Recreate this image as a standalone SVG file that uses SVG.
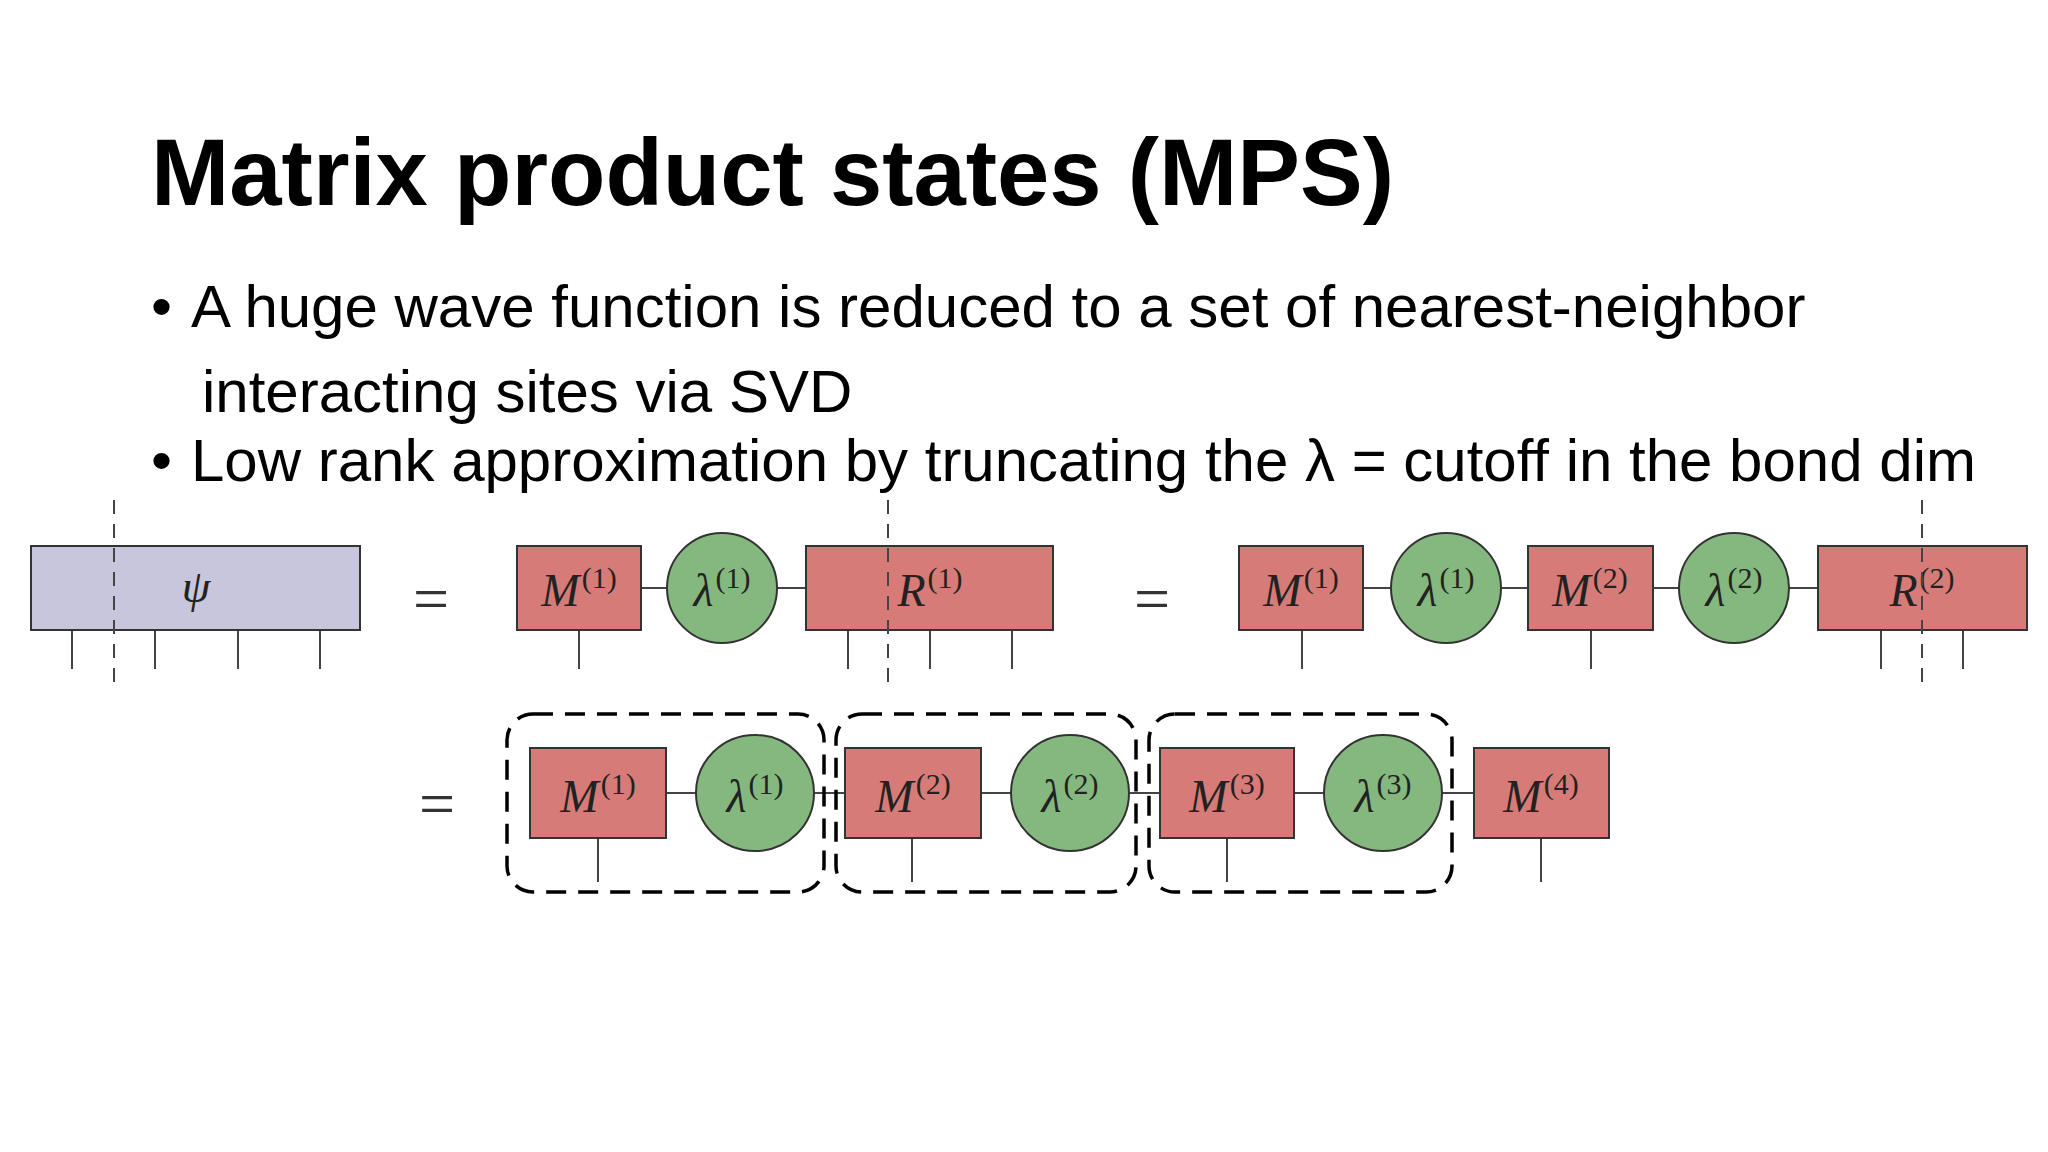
<svg xmlns="http://www.w3.org/2000/svg" width="2048" height="1152" viewBox="0 0 2048 1152">
<style>
.t{font-family:"Liberation Sans",Arial,sans-serif;fill:#000}
.r{fill:#d67b77;stroke:#333;stroke-width:2}
.g{fill:#85b87f;stroke:#333;stroke-width:2}
.p{fill:#c8c6dc;stroke:#333;stroke-width:2}
.m{font-family:"Liberation Serif","Times New Roman",serif;font-style:italic;font-size:46px;fill:#222;text-anchor:middle}
.s{font-style:normal;font-size:30px}
.l{stroke:#444;stroke-width:2;fill:none}
.d{stroke:#444;stroke-width:2;stroke-dasharray:14 10;fill:none}
.b{stroke:#000;stroke-width:3.5;stroke-dasharray:20 12;fill:none}
.eq{font-family:"Liberation Serif",serif;font-size:64px;fill:#333;text-anchor:middle}
</style>
<rect width="2048" height="1152" fill="#fff"/>
<text class="t" x="151" y="205" font-size="94" font-weight="bold">Matrix product states (MPS)</text>
<text class="t" x="151" y="327" font-size="60">• <tspan x="191">A huge wave function is reduced to a set of nearest-neighbor</tspan></text>
<text class="t" x="202" y="412" font-size="60">interacting sites via SVD</text>
<text class="t" x="151" y="481" font-size="60">• <tspan x="191">Low rank approximation by truncating the λ = cutoff in the bond dim</tspan></text>
<g id="connectors">
<line class="l" x1="641" y1="588" x2="806" y2="588"/>
<line class="l" x1="1363" y1="588" x2="1818" y2="588"/>
<line class="l" x1="666" y1="793" x2="1474" y2="793"/>
<path class="l" d="M72 630v39M155 630v39M238 630v39M320 630v39M579 630v39M848 630v39M930 630v39M1012 630v39M1302 630v39M1591 630v39M1881 630v39M1963 630v39M598 838v44M912 838v44M1227 838v44M1541 838v44"/>
</g>
<g id="psi"><rect class="p" x="31" y="546" width="329" height="84"/><text class="m" x="196" y="602">ψ</text></g>
<text class="eq" x="431" y="620">=</text>
<g id="m1a"><rect class="r" x="517" y="546" width="124" height="84"/><text class="m" x="579" y="606">M<tspan class="s" dx="2" dy="-18">(1)</tspan></text></g>
<g id="l1a"><ellipse class="g" cx="722" cy="588" rx="55" ry="55"/><text class="m" x="722" y="606">λ<tspan class="s" dx="2" dy="-18">(1)</tspan></text></g>
<g id="r1"><rect class="r" x="806" y="546" width="247" height="84"/><text class="m" x="930" y="606">R<tspan class="s" dx="2" dy="-18">(1)</tspan></text></g>
<text class="eq" x="1152" y="620">=</text>
<g id="m1b"><rect class="r" x="1239" y="546" width="124" height="84"/><text class="m" x="1301" y="606">M<tspan class="s" dx="2" dy="-18">(1)</tspan></text></g>
<g id="l1b"><ellipse class="g" cx="1446" cy="588" rx="55" ry="55"/><text class="m" x="1446" y="606">λ<tspan class="s" dx="2" dy="-18">(1)</tspan></text></g>
<g id="m2b"><rect class="r" x="1528" y="546" width="125" height="84"/><text class="m" x="1590" y="606">M<tspan class="s" dx="2" dy="-18">(2)</tspan></text></g>
<g id="l2b"><ellipse class="g" cx="1734" cy="588" rx="55" ry="55"/><text class="m" x="1734" y="606">λ<tspan class="s" dx="2" dy="-18">(2)</tspan></text></g>
<g id="r2"><rect class="r" x="1818" y="546" width="209" height="84"/><text class="m" x="1922" y="606">R<tspan class="s" dx="2" dy="-18">(2)</tspan></text></g>
<path class="d" d="M114 500v190M888 500v190M1922 500v190"/>
<text class="eq" x="437" y="825">=</text>
<g id="m1c"><rect class="r" x="530" y="748" width="136" height="90"/><text class="m" x="598" y="812">M<tspan class="s" dx="2" dy="-18">(1)</tspan></text></g>
<g id="l1c"><ellipse class="g" cx="755" cy="793" rx="59" ry="58"/><text class="m" x="755" y="812">λ<tspan class="s" dx="2" dy="-18">(1)</tspan></text></g>
<g id="m2c"><rect class="r" x="845" y="748" width="136" height="90"/><text class="m" x="913" y="812">M<tspan class="s" dx="2" dy="-18">(2)</tspan></text></g>
<g id="l2c"><ellipse class="g" cx="1070" cy="793" rx="59" ry="58"/><text class="m" x="1070" y="812">λ<tspan class="s" dx="2" dy="-18">(2)</tspan></text></g>
<g id="m3c"><rect class="r" x="1160" y="748" width="134" height="90"/><text class="m" x="1227" y="812">M<tspan class="s" dx="2" dy="-18">(3)</tspan></text></g>
<g id="l3c"><ellipse class="g" cx="1383" cy="793" rx="59" ry="58"/><text class="m" x="1383" y="812">λ<tspan class="s" dx="2" dy="-18">(3)</tspan></text></g>
<g id="m4c"><rect class="r" x="1474" y="748" width="135" height="90"/><text class="m" x="1541" y="812">M<tspan class="s" dx="2" dy="-18">(4)</tspan></text></g>
<g id="groups">
<rect class="b" x="507" y="714" width="317" height="178" rx="26"/>
<rect class="b" x="836" y="714" width="300" height="178" rx="26"/>
<rect class="b" x="1149" y="714" width="303" height="178" rx="26"/>
</g>
</svg>
